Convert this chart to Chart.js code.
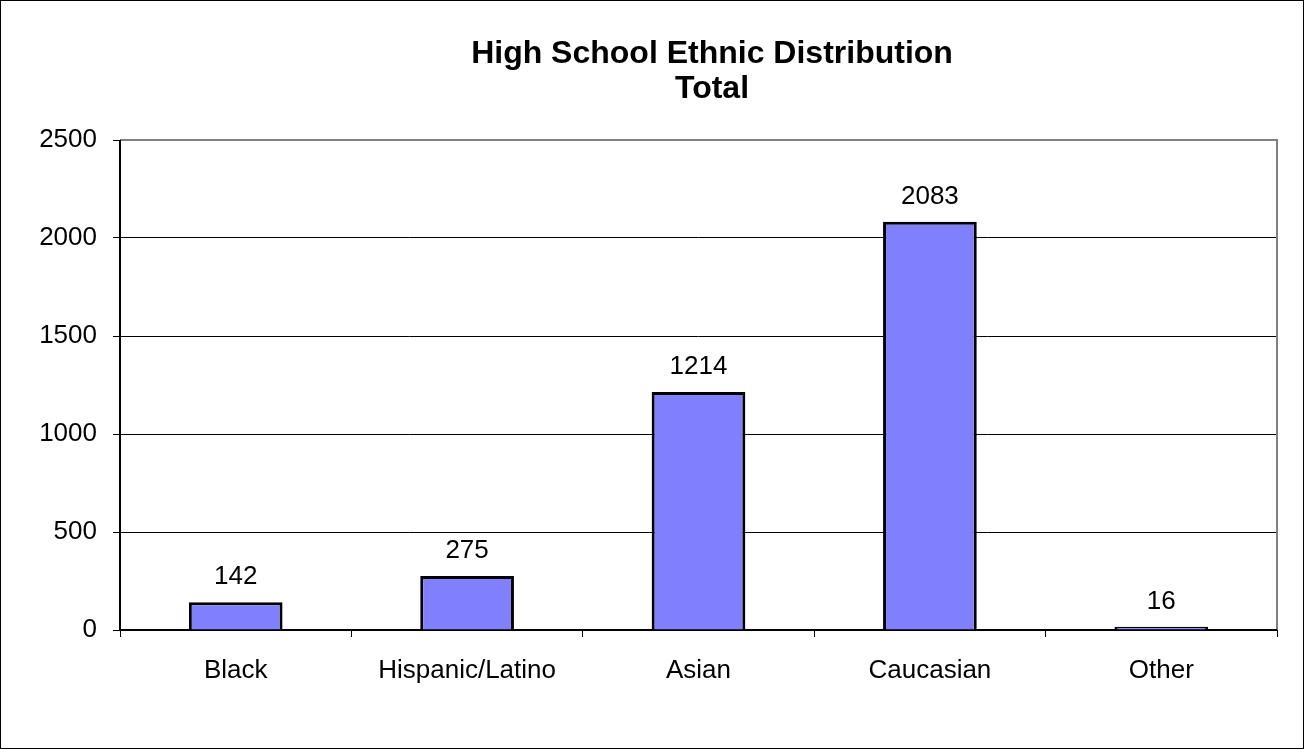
<!DOCTYPE html>
<html lang="en">
<head>
    <meta charset="UTF-8">
    <title>High School Ethnic Distribution</title>
    <script src="https://cdn.jsdelivr.net/npm/chart.js"></script>
    <style>
        html, body { margin: 0; padding: 0; background: #fff; }
        .chart-box { width: 1304px; height: 749px; position: relative; }
    </style>
</head>
<body>
<div class="chart-box">
    <canvas id="bar-chart"></canvas>
</div>
<script>
    // data
    const categories = ['Black', 'Hispanic/Latino', 'Asian', 'Caucasian', 'Other'];
    const totals = [142, 275, 1214, 2083, 16];
    const titleLines = ['High School Ethnic Distribution', 'Total'];
    const yTicks = [0, 500, 1000, 1500, 2000, 2500];

    const FONT = "'Liberation Sans', Arial, sans-serif";

    // title, labels over bars, plot border and outer frame
    const excelLook = {
        id: 'excelLook',
        beforeDatasetsDraw(chart) {
            const {ctx, chartArea: a} = chart;
            ctx.save();
            ctx.strokeStyle = '#808080';
            ctx.lineWidth = 2;
            ctx.beginPath();
            ctx.moveTo(a.left, a.top);
            ctx.lineTo(a.right, a.top);
            ctx.lineTo(a.right, a.bottom);
            ctx.stroke();
            ctx.strokeStyle = '#000';
            ctx.lineWidth = 2;
            ctx.beginPath();
            ctx.moveTo(a.left, a.top);
            ctx.lineTo(a.left, a.bottom);
            ctx.lineTo(a.right, a.bottom);
            ctx.stroke();
            ctx.restore();
        },
        afterDraw(chart) {
            const ctx = chart.ctx;
            ctx.save();
            ctx.fillStyle = '#000';
            ctx.textAlign = 'center';
            ctx.textBaseline = 'alphabetic';
            ctx.font = 'bold 32px ' + FONT;
            ctx.fillText(titleLines[0], 712, 63);
            ctx.fillText(titleLines[1], 712, 98);

            ctx.font = '26px ' + FONT;
            const meta = chart.getDatasetMeta(0);
            meta.data.forEach((bar, i) => {
                ctx.fillText(String(totals[i]), bar.x, bar.y - 18);
            });

            ctx.strokeStyle = '#000';
            ctx.lineWidth = 1;
            ctx.strokeRect(0.5, 0.5, chart.width - 1, chart.height - 1);
            ctx.restore();
        }
    };

    const chart = new Chart(document.getElementById('bar-chart'), {
        type: 'bar',
        data: {
            labels: categories,
            datasets: [{
                label: 'Total',
                data: totals,
                backgroundColor: '#8080FF',
                borderColor: '#000',
                borderWidth: 3,
                barPercentage: 0.405,
                categoryPercentage: 1
            }]
        },
        options: {
            responsive: true,
            maintainAspectRatio: false,
            animation: false,
            layout: {
                padding: {top: 140, right: 27, bottom: 0, left: 0}
            },
            plugins: {
                legend: {display: false},
                title: {display: false},
                tooltip: {enabled: false}
            },
            scales: {
                x: {
                    grid: {
                        offset: true,
                        drawOnChartArea: false,
                        color: '#000',
                        tickLength: 7
                    },
                    border: {display: false},
                    ticks: {
                        color: '#000',
                        font: {family: FONT, size: 26},
                        padding: 18,
                        maxRotation: 0
                    },
                    afterFit(scale) { scale.height = 749 - 630; }
                },
                y: {
                    min: 0,
                    max: 2500,
                    afterBuildTicks(scale) { scale.ticks = yTicks.map(v => ({value: v})); },
                    grid: {
                        color: '#000',
                        lineWidth: 1,
                        tickLength: 7
                    },
                    border: {display: false},
                    ticks: {
                        color: '#000',
                        font: {family: FONT, size: 26},
                        padding: 16,
                        callback: v => String(v)
                    },
                    afterFit(scale) { scale.width = 120; }
                }
            }
        },
        plugins: [excelLook]
    });
</script>
</body>
</html>
